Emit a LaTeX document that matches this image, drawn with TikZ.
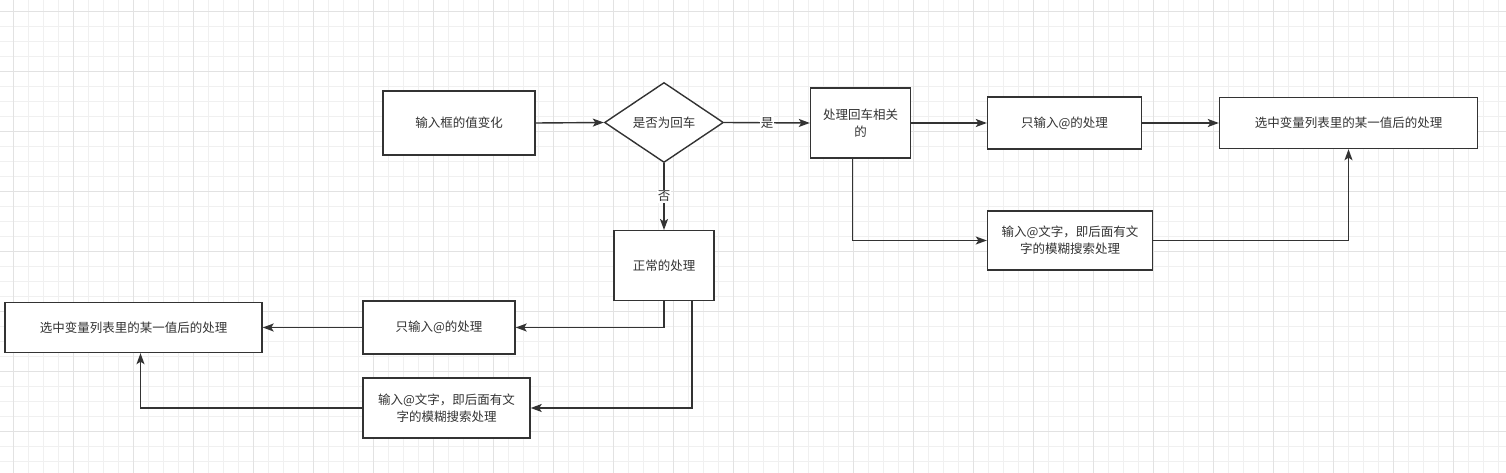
\documentclass[tikz,border=0pt]{standalone}
\usepackage{fontspec}
\setmainfont{Noto Sans CJK SC}
\usetikzlibrary{shapes.geometric,arrows.meta}
\definecolor{ink}{HTML}{333333}
\definecolor{gridminor}{HTML}{F0F0F0}
\definecolor{gridmajor}{HTML}{E2E2E2}
\tikzset{
  box/.style={draw=ink,line width=1.4pt,fill=white,rectangle,inner sep=2pt,align=center,
    text=ink,font=\fontsize{12.5}{16.7}\selectfont},
  decide/.style={draw=ink,line width=1.4pt,fill=white,diamond,inner sep=0pt,aspect=1.49,
    text=ink,font=\fontsize{12.5}{16.7}\selectfont,minimum width=119pt,minimum height=80pt},
  flow/.style={draw=ink,line width=1.4pt,-{Stealth[length=11pt,width=8pt,inset=2.5pt]}},
  tag/.style={fill=white,text=ink,inner sep=1pt,font=\fontsize{12.5}{15}\selectfont},
  minorline/.style={draw=gridminor,line width=1pt},
  majorline/.style={draw=gridmajor,line width=1pt}
}
\begin{document}
\begin{tikzpicture}[x=1pt,y=-1pt]
\useasboundingbox (0,0) rectangle (1506,473);
\clip (0,0) rectangle (1506,473);
\fill[white] (0,0) rectangle (1506,473);
\foreach \i in {0,...,100} {
  \draw[minorline] ({13.3+15*\i},0) -- ++(0,473);
}
\foreach \j in {0,...,31} {
  \draw[minorline] (0,{11.7+15*\j}) -- ++(1506,0);
}
\foreach \i in {0,...,25} {
  \draw[majorline] ({13.3+60*\i},0) -- ++(0,473);
}
\foreach \j in {0,...,7} {
  \draw[majorline] (0,{11.7+60*\j}) -- ++(1506,0);
}

\node[box,minimum width=152pt,minimum height=64pt] (in) at (459,123) {输入框的值变化};
\node[decide] (dia) at (664,122.5) {是否为回车};
\node[box,minimum width=100pt,minimum height=70pt] (A) at (860.5,123) {处理回车相关\\的};
\node[box,minimum width=154pt,minimum height=52pt] (B) at (1064.5,123) {只输入@的处理};
\node[box,minimum width=258pt,minimum height=51pt] (C) at (1348.5,123) {选中变量列表里的某一值后的处理};
\node[box,minimum width=165pt,minimum height=59pt] (D) at (1070,240.5) {输入@文字，即后面有文\\字的模糊搜索处理};
\node[box,minimum width=100pt,minimum height=70pt] (E) at (664,265.7) {正常的处理};
\node[box,minimum width=152pt,minimum height=53pt] (F) at (439,327.5) {只输入@的处理};
\node[box,minimum width=257pt,minimum height=50pt] (G) at (133.5,327.5) {选中变量列表里的某一值后的处理};
\node[box,minimum width=167pt,minimum height=60pt] (H) at (446.5,408) {输入@文字，即后面有文\\字的模糊搜索处理};

\draw[flow] (in.east) -- (dia.west);
\draw[flow] (dia.east) -- node[tag] {是} (A.west);
\draw[flow] (dia.south) -- node[tag] {否} (E.north);
\draw[flow] (A.east) -- (B.west);
\draw[flow] (B.east) -- (C.west);
\draw[flow] ([xshift=-8pt]A.south) |- (D.west);
\draw[flow] (D.east) -| (C.south);
\draw[flow] (E.south) |- (F.east);
\draw[flow] (F.west) -- (G.east);
\draw[flow] ([xshift=28pt]E.south) |- (H.east);
\draw[flow] (H.west) -| ([xshift=7pt]G.south);
\end{tikzpicture}
\end{document}
